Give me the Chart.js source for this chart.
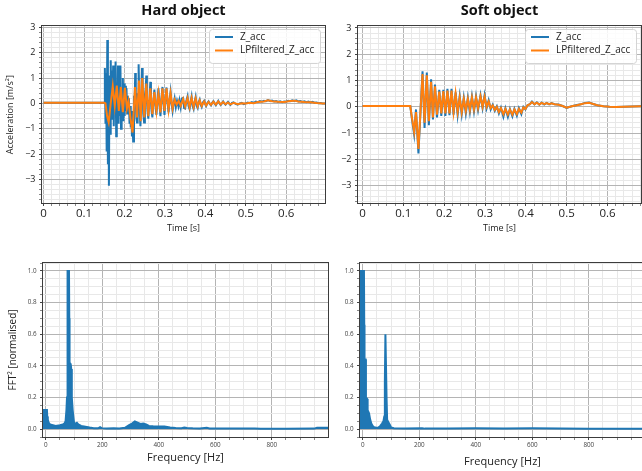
<!DOCTYPE html>
<html>
<head>
<meta charset="utf-8">
<script src="https://cdn.jsdelivr.net/npm/chart.js@4.4.0/dist/chart.umd.min.js"></script>
<style>
  html, body { margin: 0; padding: 0; background: #fff; overflow: hidden; }
  body { width: 642px; height: 471px; position: relative; }
  canvas { position: absolute; }
</style>
</head>
<body>
<canvas id="hardTime" width="330" height="240" style="left:0;top:0"></canvas>
<canvas id="softTime" width="312" height="240" style="left:330px;top:0"></canvas>
<canvas id="hardFft" width="330" height="231" style="left:0;top:240px"></canvas>
<canvas id="softFft" width="320" height="231" style="left:330px;top:240px"></canvas>
<script>
// ---- data ----
// hard object, raw acceleration
const hardRawT = [0, 0.150, 0.1515, 0.153, 0.1545, 0.156, 0.1575, 0.159, 0.1603, 0.1615, 0.163, 0.1645, 0.166, 0.1675, 0.169, 0.1705, 0.172, 0.1735, 0.175, 0.1765, 0.178, 0.1795, 0.181, 0.1825, 0.184, 0.1855, 0.187, 0.1885, 0.190, 0.1915, 0.193, 0.1945, 0.196, 0.1975, 0.199, 0.2005, 0.202, 0.2035, 0.205, 0.2065, 0.208, 0.2095, 0.211, 0.2125, 0.214, 0.2155, 0.217, 0.2185, 0.220, 0.2215, 0.2235, 0.225, 0.2265, 0.228, 0.2295, 0.231, 0.2325, 0.2335, 0.235, 0.2365, 0.238, 0.2395, 0.241, 0.2425, 0.2435, 0.245, 0.2465, 0.2485, 0.2505, 0.2525, 0.254, 0.2555, 0.257, 0.259, 0.261, 0.2625, 0.264, 0.2655, 0.267, 0.269, 0.271, 0.274, 0.2765, 0.279, 0.2815, 0.284, 0.2865, 0.289, 0.2915, 0.294, 0.2965, 0.299, 0.3015, 0.304, 0.3065, 0.309, 0.3115, 0.314, 0.3165, 0.319, 0.3215, 0.324, 0.327, 0.330, 0.3335, 0.336, 0.339, 0.342, 0.345, 0.3475, 0.350, 0.353, 0.356, 0.3585, 0.361, 0.3635, 0.366, 0.3685, 0.371, 0.3735, 0.376, 0.3785, 0.381, 0.3835, 0.386, 0.3885, 0.391, 0.394, 0.397, 0.400, 0.402, 0.405, 0.408, 0.411, 0.414, 0.417, 0.420, 0.423, 0.426, 0.429, 0.432, 0.435, 0.438, 0.441, 0.444, 0.447, 0.450, 0.453, 0.456, 0.459, 0.462, 0.466, 0.470, 0.475, 0.480, 0.485, 0.490, 0.495, 0.500, 0.505, 0.510, 0.515, 0.520, 0.525, 0.530, 0.535, 0.540, 0.545, 0.550, 0.555, 0.560, 0.565, 0.570, 0.575, 0.580, 0.585, 0.590, 0.595, 0.600, 0.605, 0.610, 0.615, 0.620, 0.625, 0.630, 0.635, 0.640, 0.645, 0.650, 0.655, 0.660, 0.665, 0.670, 0.675, 0.680, 0.685, 0.690, 0.696];
const hardRawV = [0.03, 0.03, 1.4, -0.8, 1.2, -1.9, 2.5, -2.4, 0.9, -3.25, 1.1, -1.2, 1.7, -0.6, 1.3, -0.2, 1.5, -0.9, 0.9, -0.4, 1.65, -1.3, 0.6, -0.3, 1.5, -0.8, 1.2, -0.5, 1.5, -1.0, 0.5, -0.4, 1.0, -0.7, 0.8, -0.5, 0.7, -0.3, 0.6, -0.4, 0.3, -0.35, 0.2, -0.8, -0.1, -0.95, -0.3, -1.3, -0.8, -1.5, 0.3, -0.2, 1.2, 0.1, -0.6, -0.75, 0.4, 0.2, 1.55, 0.3, -0.5, -0.9, 0.2, 0.8, 1.4, 0.3, -0.4, -0.75, 0.3, 0.6, 1.1, 0.2, -0.3, -0.6, 0.1, 0.4, 0.85, 0.1, -0.3, -0.55, 0.0, 0.55, -0.1, -0.45, 0.1, 0.6, -0.05, -0.5, 0.2, 0.65, 0.0, -0.45, 0.2, 0.63, 0.05, -0.35, 0.1, 0.45, 0.0, -0.3, 0.0, 0.2, -0.15, 0.1, -0.12, 0.12, -0.15, 0.2, 0.22, -0.18, -0.2, 0.1, 0.28, -0.1, -0.22, 0.05, 0.27, -0.1, -0.22, 0.05, 0.25, -0.1, -0.18, 0.05, 0.15, -0.05, -0.14, 0.04, 0.1, -0.05, -0.1, 0.02, 0.08, -0.02, -0.08, 0.03, 0.09, 0.0, -0.07, 0.02, 0.1, 0.01, -0.06, 0.0, 0.08, 0.0, -0.05, 0.01, 0.06, -0.01, -0.06, 0.02, 0.04, -0.02, -0.05, 0.0, 0.02, -0.03, 0.0, 0.03, 0.01, 0.05, 0.02, 0.07, 0.05, 0.09, 0.07, 0.1, 0.09, 0.13, 0.1, 0.11, 0.08, 0.09, 0.06, 0.08, 0.05, 0.08, 0.07, 0.1, 0.09, 0.12, 0.1, 0.12, 0.08, 0.09, 0.06, 0.08, 0.05, 0.07, 0.04, 0.06, 0.03, 0.04, 0.01, 0.02, 0.0, 0.0];
// hard object, low-pass filtered
const hardLpT = [0, 0.150, 0.153, 0.157, 0.161, 0.166, 0.171, 0.176, 0.181, 0.186, 0.191, 0.196, 0.201, 0.206, 0.210, 0.215, 0.220, 0.226, 0.231, 0.236, 0.240, 0.244, 0.249, 0.254, 0.259, 0.264, 0.269, 0.274, 0.279, 0.284, 0.289, 0.294, 0.299, 0.304, 0.309, 0.314, 0.319, 0.324, 0.329, 0.334, 0.339, 0.345, 0.350, 0.356, 0.361, 0.366, 0.371, 0.376, 0.381, 0.386, 0.391, 0.397, 0.402, 0.408, 0.414, 0.420, 0.426, 0.432, 0.438, 0.444, 0.450, 0.456, 0.462, 0.470, 0.480, 0.490, 0.500, 0.510, 0.520, 0.530, 0.545, 0.555, 0.565, 0.580, 0.595, 0.610, 0.620, 0.630, 0.645, 0.660, 0.675, 0.690, 0.696];
const hardLpV = [0.03, 0.03, 0.0, -0.5, -0.75, 0.0, 0.68, -0.1, 0.7, -0.3, 0.65, -0.35, 0.62, -0.2, 0.1, -0.6, -1.15, 0.65, -0.55, 0.9, -0.7, 1.0, -0.55, 0.78, -0.5, 0.6, -0.42, 0.45, -0.3, 0.4, -0.35, 0.6, -0.3, 0.6, -0.25, 0.4, -0.2, 0.15, -0.05, 0.1, -0.1, 0.18, -0.12, 0.22, -0.15, 0.22, -0.15, 0.2, -0.12, 0.12, -0.1, 0.08, -0.08, 0.06, -0.06, 0.07, -0.05, 0.08, -0.04, 0.06, -0.03, 0.04, -0.04, 0.02, -0.03, 0.01, 0.0, 0.03, 0.01, 0.06, 0.08, 0.12, 0.09, 0.07, 0.06, 0.1, 0.11, 0.08, 0.06, 0.05, 0.02, 0.0, 0.0];
// soft object, both signals share one time base
const softT = [0, 0.117, 0.121, 0.1265, 0.131, 0.137, 0.147, 0.152, 0.1575, 0.1625, 0.168, 0.1725, 0.1775, 0.1825, 0.188, 0.193, 0.198, 0.203, 0.208, 0.213, 0.218, 0.223, 0.228, 0.233, 0.238, 0.243, 0.248, 0.253, 0.258, 0.263, 0.268, 0.273, 0.278, 0.283, 0.289, 0.294, 0.299, 0.304, 0.309, 0.314, 0.319, 0.324, 0.329, 0.334, 0.339, 0.345, 0.350, 0.356, 0.361, 0.367, 0.372, 0.378, 0.383, 0.389, 0.394, 0.399, 0.404, 0.410, 0.415, 0.421, 0.427, 0.433, 0.439, 0.445, 0.451, 0.457, 0.463, 0.470, 0.480, 0.490, 0.500, 0.508, 0.515, 0.525, 0.535, 0.545, 0.555, 0.565, 0.575, 0.590, 0.605, 0.620, 0.640, 0.660, 0.682];
const softRawV = [0.03, 0.03, -0.45, -1.05, -0.1, -1.77, 1.35, -0.8, 1.3, -0.7, 1.05, -0.48, 0.85, -0.4, 0.65, -0.35, 0.65, -0.35, 0.68, -0.32, 0.68, -0.3, 0.55, -0.3, 0.4, -0.28, 0.35, -0.25, 0.35, -0.2, 0.4, -0.18, 0.4, -0.12, 0.44, -0.05, 0.44, -0.05, 0.25, -0.1, 0.08, -0.15, 0.02, -0.25, -0.03, -0.38, -0.05, -0.38, -0.08, -0.36, -0.08, -0.34, -0.05, -0.28, 0.0, -0.1, 0.06, 0.1, 0.2, 0.09, 0.17, 0.08, 0.16, 0.09, 0.15, 0.09, 0.14, 0.1, 0.09, 0.03, -0.04, 0.0, 0.03, 0.07, 0.1, 0.15, 0.16, 0.11, 0.06, 0.02, 0.0, -0.01, 0.0, 0.01, 0.02];
const softLpV = [0.03, 0.03, -0.4, -0.95, -0.2, -1.6, 1.25, -0.6, 1.2, -0.55, 0.95, -0.4, 0.78, -0.3, 0.58, -0.25, 0.6, -0.25, 0.62, -0.25, 0.62, -0.2, 0.5, -0.2, 0.35, -0.2, 0.3, -0.15, 0.3, -0.12, 0.35, -0.1, 0.35, -0.05, 0.4, 0.0, 0.38, 0.0, 0.2, -0.05, 0.05, -0.12, 0.0, -0.2, -0.05, -0.28, -0.08, -0.3, -0.1, -0.3, -0.1, -0.28, -0.08, -0.22, -0.02, -0.08, 0.06, 0.1, 0.18, 0.1, 0.16, 0.09, 0.15, 0.1, 0.14, 0.1, 0.13, 0.1, 0.08, 0.03, -0.03, 0.0, 0.03, 0.06, 0.1, 0.14, 0.15, 0.11, 0.06, 0.02, 0.0, -0.01, 0.0, 0.01, 0.02];
// spectra (normalised FFT^2)
const hardFreq = [-10, 4, 5, 7, 10, 15, 25, 35, 50, 60, 66, 70, 73, 75, 76, 77, 78, 82, 83, 84, 88, 90, 92, 95, 98, 100, 105, 110, 115, 125, 140, 155, 170, 185, 192, 198, 215, 240, 260, 280, 295, 305, 315, 325, 335, 345, 355, 365, 380, 400, 420, 440, 460, 480, 490, 500, 520, 545, 570, 580, 620, 700, 740, 760, 850, 950, 960, 1000];
const hardFft = [0.12, 0.12, 0.08, 0.06, 0.04, 0.03, 0.025, 0.02, 0.025, 0.03, 0.035, 0.05, 0.12, 0.2, 0.53, 0.87, 1.0, 1.0, 0.7, 0.42, 0.41, 0.38, 0.2, 0.12, 0.07, 0.04, 0.035, 0.04, 0.03, 0.02, 0.015, 0.01, 0.006, 0.005, 0.012, 0.006, 0.004, 0.006, 0.004, 0.008, 0.025, 0.035, 0.048, 0.04, 0.032, 0.035, 0.03, 0.02, 0.018, 0.017, 0.016, 0.01, 0.007, 0.006, 0.01, 0.007, 0.005, 0.004, 0.009, 0.004, 0.003, 0.003, 0.004, 0.002, 0.002, 0.003, 0.008, 0.008];
const softFreq = [-10, 4, 5, 6, 10, 11, 16, 17, 22, 26, 30, 35, 40, 48, 55, 62, 68, 73, 76, 78, 80, 82, 84, 86, 90, 95, 100, 110, 150, 210, 220, 300, 400, 500, 600, 700, 800, 1000];
const softFft = [1.0, 1.0, 0.66, 0.44, 0.44, 0.2, 0.19, 0.12, 0.1, 0.06, 0.035, 0.02, 0.012, 0.008, 0.01, 0.02, 0.035, 0.05, 0.08, 0.3, 0.6, 0.6, 0.2, 0.06, 0.045, 0.03, 0.01, 0.005, 0.004, 0.006, 0.003, 0.004, 0.005, 0.004, 0.005, 0.003, 0.002, 0.002];
// labelled (major) ticks
const timeTicks = [0, 0.1, 0.2, 0.3, 0.4, 0.5, 0.6];
const accTicks = [-3, -2, -1, 0, 1, 2, 3];
const freqTicks = [0, 200, 400, 600, 800];
const fftTicks = [0, 0.2, 0.4, 0.6, 0.8, 1.0];

const BLUE = '#1f77b4';
const ORANGE = '#ff7f0e';
const FONT = "'Open Sans', sans-serif";

function makeTicks(min, max, step) {
    let out = [];
    for (let k = Math.ceil(min / step - 1e-9); k * step <= max + 1e-9; k++) {
        out.push(+(k * step).toFixed(6));
    }
    return out;
}

function fmt(v, dec) {
    let s = dec ? Math.abs(v).toFixed(dec) : String(+Math.abs(v).toFixed(6));
    return (v < -1e-9 ? '\u2212' : '') + s;
}

function axis(o) {
    return {
        type: 'linear',
        min: o.min,
        max: o.max,
        afterBuildTicks: s => {
            s.ticks = makeTicks(o.min, o.max, o.minor).map(v => ({
                value: v,
                major: o.major.some(m => Math.abs(m - v) < 1e-6)
            }));
        },
        afterFit: s => {
            if (s.isHorizontal()) s.height = o.size;
            else s.width = o.size;
        },
        ticks: {
            autoSkip: false,
            maxRotation: 0,
            padding: o.pad,
            color: o.tickColor || '#222',
            font: { family: FONT, size: o.fontSize },
            callback: (v, i, ticks) => ticks[i].major ? fmt(v, o.dec) : ''
        },
        grid: {
            color: c => (c.tick && c.tick.major) ? '#b4b4b4' : '#e8e8e8',
            tickColor: c => (c.tick && c.tick.major) ? '#444' : '#888',
            tickLength: o.tickLength || 3,
            lineWidth: 1
        },
        border: { display: false },
        title: o.title ? {
            display: true,
            text: o.title,
            color: '#222',
            font: { family: FONT, size: o.titleSize },
            padding: o.titlePad
        } : { display: false }
    };
}

// frame round the plot area, drawn over the data like axes spines
const framePlugin = {
    id: 'frame',
    afterDatasetsDraw(chart) {
        let a = chart.chartArea;
        let ctx = chart.ctx;
        ctx.save();
        ctx.strokeStyle = '#3c3c3c';
        ctx.lineWidth = 1;
        let l = Math.round(a.left), t = Math.round(a.top);
        let r = Math.round(a.right), b = Math.round(a.bottom);
        ctx.strokeRect(l - 0.5, t - 0.5, r - l + 1, b - t + 1);
        ctx.restore();
    }
};

// legend box inside the plot, upper right
const legendBoxPlugin = {
    id: 'legendBox',
    afterDraw(chart, args, opts) {
        if (!opts.show) return;
        let a = chart.chartArea;
        let ctx = chart.ctx;
        let items = chart.data.datasets;
        ctx.save();
        ctx.font = '10px ' + FONT;
        let tw = Math.max(...items.map(d => ctx.measureText(d.label).width));
        let w = Math.round(31 + tw + 6), h = 34;
        let x = Math.round(a.right - 5 - w), y = Math.round(a.top + 3);
        ctx.beginPath();
        ctx.roundRect(x + 0.5, y + 0.5, w, h, 3);
        ctx.fillStyle = 'rgba(255,255,255,0.85)';
        ctx.fill();
        ctx.strokeStyle = '#d4d4d4';
        ctx.lineWidth = 1;
        ctx.stroke();
        items.forEach((d, i) => {
            let cy = y + 8 + i * 13.5;
            ctx.strokeStyle = d.borderColor;
            ctx.lineWidth = 2;
            ctx.beginPath();
            ctx.moveTo(x + 6, cy);
            ctx.lineTo(x + 24, cy);
            ctx.stroke();
            ctx.fillStyle = '#222';
            ctx.textAlign = 'left';
            ctx.textBaseline = 'middle';
            ctx.fillText(d.label, x + 31, cy);
        });
        ctx.restore();
    }
};

function pts(xs, ys) {
    return xs.map((x, i) => ({ x: x, y: ys[i] }));
}

function timeChart(id, title, raw, lp, xr, yr, ySize, yTitle, padRight) {
    return new Chart(document.getElementById(id), {
        type: 'line',
        data: {
            datasets: [
                { label: 'Z_acc', data: raw, borderColor: BLUE, borderWidth: 2, pointRadius: 0, order: 1 },
                { label: 'LPfiltered_Z_acc', data: lp, borderColor: ORANGE, borderWidth: 2, pointRadius: 0, order: 0 }
            ]
        },
        options: {
            responsive: false,
            animation: false,
            devicePixelRatio: 1,
            events: [],
            layout: { padding: { left: 0, right: padRight, top: 0, bottom: 0 } },
            plugins: {
                legend: { display: false },
                tooltip: { enabled: false },
                title: {
                    display: true,
                    text: title,
                    fullSize: false,
                    color: '#111',
                    font: { family: FONT, size: 14.5, weight: 'bold' },
                    padding: { top: 2, bottom: 7 }
                },
                legendBox: { show: true }
            },
            scales: {
                x: axis({ min: xr[0], max: xr[1], minor: 0.02, major: timeTicks, size: 37, pad: 1, fontSize: 11.5,
                    title: 'Time [s]', titleSize: 9, titlePad: { top: 0, bottom: 6 } }),
                y: axis({ min: yr[0], max: yr[1], minor: 0.2, major: accTicks, size: ySize, pad: 3.5, fontSize: 9,
                    title: yTitle, titleSize: 9, titlePad: { top: 5, bottom: 0 } })
            }
        },
        plugins: [framePlugin, legendBoxPlugin]
    });
}

function fftChart(id, data, ySize, yTitle, padRight, xTitlePad) {
    return new Chart(document.getElementById(id), {
        type: 'line',
        data: {
            datasets: [{
                label: 'FFT',
                data: data,
                borderColor: BLUE,
                backgroundColor: BLUE,
                borderWidth: 2,
                pointRadius: 0,
                fill: 'origin'
            }]
        },
        options: {
            responsive: false,
            animation: false,
            devicePixelRatio: 1,
            events: [],
            layout: { padding: { left: 0, right: padRight, top: 23, bottom: 0 } },
            plugins: {
                legend: { display: false },
                tooltip: { enabled: false }
            },
            scales: {
                x: axis({ min: -10, max: 999, minor: 50, major: freqTicks, size: 34, pad: 1, fontSize: 6.3,
                    tickColor: '#444', title: 'Frequency [Hz]', titleSize: 11, titlePad: { top: 0, bottom: xTitlePad } }),
                y: axis({ min: -0.05, max: 1.05, minor: 0.05, major: fftTicks, size: ySize, pad: 3.5, fontSize: 6.3, dec: 1,
                    tickColor: '#444', title: yTitle, titleSize: 10, titlePad: { top: 7, bottom: 0 } })
            }
        },
        plugins: [framePlugin]
    });
}

timeChart('hardTime', 'Hard object', pts(hardRawT, hardRawV), pts(hardLpT, hardLpV),
    [-0.004, 0.696], [-3.93, 3.04], 42, 'Acceleration [m/s\u00b2]', 5);
timeChart('softTime', 'Soft object', pts(softT, softRawV), pts(softT, softLpV),
    [-0.011, 0.682], [-3.66, 3.06], 28, '', 1);
fftChart('hardFft', pts(hardFreq, hardFft), 43, 'FFT\u00b2 [normalised]', 2, 7);
fftChart('softFft', pts(softFreq, softFft), 30, '', 5, 3);
</script>
</body>
</html>
